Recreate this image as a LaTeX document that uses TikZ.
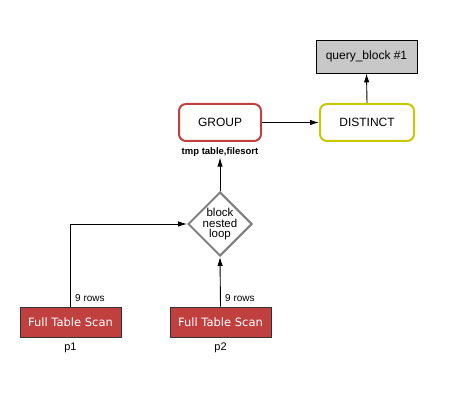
\documentclass[tikz,border=0pt]{standalone}
\usepackage{fontspec}
\setmainfont{Liberation Sans}
\newfontfamily\ftsfont{DejaVu Sans}
\usetikzlibrary{arrows.meta,shapes.geometric}
\definecolor{grpred}{RGB}{192,64,66}
\definecolor{dstyel}{RGB}{200,200,0}
\definecolor{qbgray}{RGB}{200,200,200}
\definecolor{ftsred}{RGB}{192,64,64}
\definecolor{loopgray}{RGB}{128,128,128}
\tikzset{
  conn/.style={draw=black, line width=0.9pt, -{Latex[length=9pt,width=5.5pt]}},
  roundbox/.style={rounded corners=7pt, line width=2pt, fill=white, minimum width=82pt, minimum height=37pt, inner sep=0pt, font=\fontsize{12}{14}\selectfont},
  qbbox/.style={draw=black, line width=0.9pt, fill=qbgray, minimum width=101pt, minimum height=33pt, inner sep=0pt, font=\fontsize{12}{14}\selectfont},
  ftsbox/.style={draw=black!80, line width=0.9pt, fill=ftsred, text=white, minimum width=101pt, minimum height=30pt, inner sep=0pt, font=\ftsfont\fontsize{11.5}{14}\selectfont},
  loopshape/.style={diamond, draw=loopgray, line width=2pt, fill=white, minimum width=64pt, minimum height=64pt, inner sep=0pt},
  small/.style={font=\fontsize{10}{12}\selectfont, inner sep=0pt},
}
\begin{document}
\begin{tikzpicture}[x=1pt,y=-1pt]
\useasboundingbox (0,0) rectangle (455,403);
\node[qbbox] (qb) at (366.5,56.5) {query\_block \#1};
\node[roundbox, draw=grpred] (group) at (220,122.5) {GROUP};
\node[roundbox, draw=dstyel, minimum width=94pt] (distinct) at (367,122.5) {DISTINCT};
\node[small, font=\bfseries\fontsize{9.5}{11}\selectfont] (tmp) at (220,152) {tmp table,filesort};
\node[loopshape] (loop) at (220,224) {};
\node[align=center, inner sep=0pt, font=\fontsize{11.5}{10.5}\selectfont] (looptext) at (220,224.5) {block\\nested\\loop};
\node[ftsbox] (fts1) at (70.5,322) {Full Table Scan};
\node[ftsbox] (fts2) at (220.5,322) {Full Table Scan};
\node[small, font=\fontsize{11}{13}\selectfont] (p1) at (70.5,348) {p1};
\node[small, font=\fontsize{11}{13}\selectfont] (p2) at (220.5,348) {p2};
\node[small, anchor=west] (r1) at (75,298) {9 rows};
\node[small, anchor=west] (r2) at (225,298) {9 rows};
\coordinate (bend) at (fts1.north |- loop.west);
\draw[conn] (fts1.north) -- (bend) -- (loop.west);
\draw[conn] (fts2.north) -- (loop.south);
\draw[conn] (loop.north) -- ([yshift=-1pt]tmp.south);
\draw[conn] (group.east) -- (distinct.west);
\draw[conn] (distinct.north) -- (qb.south);
\end{tikzpicture}
\end{document}
